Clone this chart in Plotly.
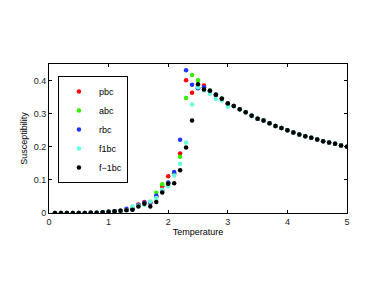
import plotly.graph_objects as go

temperature = [round(0.1 * i, 1) for i in range(1, 51)]

low = [0.0, 0.0, 0.0, 0.0, 0.0, 0.0, 0.001, 0.001, 0.002]
tail = [0.331, 0.323, 0.313, 0.304, 0.294, 0.285, 0.279, 0.271, 0.263, 0.257,
        0.250, 0.243, 0.237, 0.232, 0.227, 0.222, 0.217, 0.213, 0.209, 0.204, 0.200]

# T = 1.0 .. 2.9
pbc_mid = [0.004, 0.005, 0.007, 0.010, 0.012, 0.026, 0.033, 0.030, 0.050, 0.080,
           0.111, 0.120, 0.180, 0.401, 0.363, 0.380, 0.385, 0.368, 0.356, 0.345]
abc_mid = [0.004, 0.005, 0.006, 0.009, 0.011, 0.022, 0.030, 0.033, 0.061, 0.087,
           0.090, 0.118, 0.170, 0.347, 0.417, 0.401, 0.378, 0.370, 0.357, 0.346]
rbc_mid = [0.004, 0.005, 0.007, 0.013, 0.011, 0.024, 0.031, 0.032, 0.052, 0.067,
           0.092, 0.124, 0.221, 0.431, 0.387, 0.377, 0.380, 0.369, 0.358, 0.345]
f1bc_mid = [0.004, 0.004, 0.006, 0.009, 0.020, 0.022, 0.025, 0.035, 0.045, 0.070,
            0.081, 0.113, 0.149, 0.213, 0.328, 0.380, 0.370, 0.360, 0.344, 0.340]
fm1bc_mid = [0.004, 0.005, 0.007, 0.008, 0.010, 0.020, 0.028, 0.020, 0.033, 0.062,
             0.088, 0.090, 0.129, 0.198, 0.279, 0.389, 0.373, 0.369, 0.357, 0.345]

f1bc_tail = [0.321, 0.323, 0.313, 0.304, 0.292, 0.285, 0.279, 0.271, 0.263, 0.257,
             0.250, 0.243, 0.237, 0.232, 0.227, 0.222, 0.217, 0.213, 0.209, 0.204, 0.200]

series = [
    ("pbc", low + pbc_mid + tail, "#ff0000"),
    ("abc", low + abc_mid + tail, "#33ee00"),
    ("rbc", low + rbc_mid + tail, "#2233ff"),
    ("f1bc", low + f1bc_mid + f1bc_tail, "#66ffdd"),
    ("f\u22121bc", low + fm1bc_mid + tail, "#000000"),
]

fig = go.Figure()
for name, vals, col in series:
    fig.add_trace(go.Scatter(x=temperature, y=vals, mode="markers", name=name,
                             marker=dict(color=col, size=4.5, line=dict(width=0))))

axis_common = dict(showline=True, linecolor="black", linewidth=1, mirror="allticks",
                   ticks="inside", ticklen=3, tickcolor="black", showgrid=False,
                   zeroline=False, tickfont=dict(size=9, color="#222222"))

fig.update_layout(
    width=382, height=287,
    margin=dict(l=41, r=43, t=56, b=82),
    paper_bgcolor="white", plot_bgcolor="white",
    font=dict(family="Liberation Sans, Arial, sans-serif", size=9, color="black"),
    showlegend=True,
    legend=dict(x=0.03, y=0.92, xanchor="left", yanchor="top",
                bordercolor="black", borderwidth=1, bgcolor="white",
                font=dict(size=9), itemwidth=30),
    xaxis=dict(range=[0, 5], tickvals=[0, 1, 2, 3, 4, 5],
               title=dict(text="Temperature", font=dict(size=9), standoff=2),
               **axis_common),
    yaxis=dict(range=[0, 0.45], tickvals=[0, 0.1, 0.2, 0.3, 0.4],
               title=dict(text="Susceptibility", font=dict(size=9), standoff=4),
               **axis_common),
)

fig.write_html("out.html")
